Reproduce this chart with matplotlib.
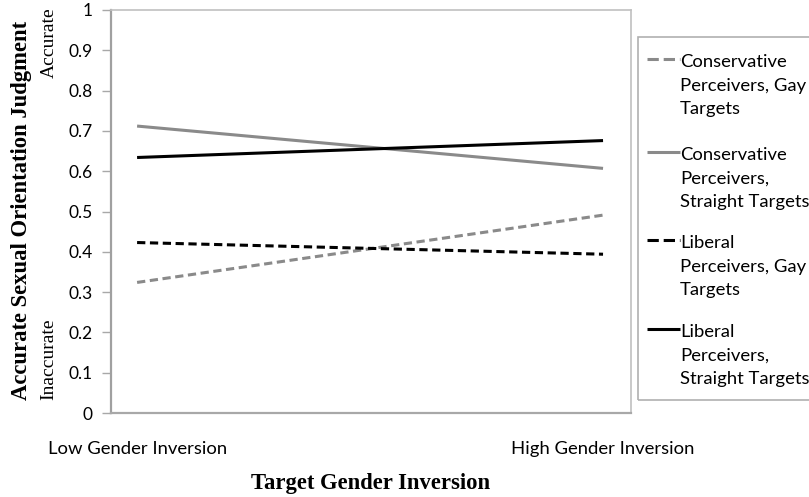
import matplotlib
matplotlib.use("Agg")
import matplotlib.pyplot as plt
from matplotlib.lines import Line2D
from matplotlib.patches import Rectangle

# ---- data ----
categories = ["Low Gender Inversion", "High Gender Inversion"]
series_names = [
    "Conservative\nPerceivers, Gay\nTargets",
    "Conservative\nPerceivers,\nStraight Targets",
    "Liberal\nPerceivers, Gay\nTargets",
    "Liberal\nPerceivers,\nStraight Targets",
]
cons_gay = [0.324, 0.491]
cons_straight = [0.712, 0.607]
lib_gay = [0.423, 0.394]
lib_straight = [0.634, 0.676]
yticks = [0, 0.1, 0.2, 0.3, 0.4, 0.5, 0.6, 0.7, 0.8, 0.9, 1]
ytick_labels = ["0", "0.1", "0.2", "0.3", "0.4", "0.5", "0.6", "0.7", "0.8", "0.9", "1"]

W, H = 809, 497
fig = plt.figure(figsize=(W / 100, H / 100), dpi=100)
ax = fig.add_axes([111 / W, (H - 413) / H, (631 - 111) / W, (413 - 10) / H])

GRAY = "#8a8a8a"
dash = (0, (2.7, 1.5))
styles = [
    dict(color=GRAY, ls=dash),
    dict(color=GRAY, ls="-"),
    dict(color="black", ls=dash),
    dict(color="black", ls="-"),
]
all_series = [cons_gay, cons_straight, lib_gay, lib_straight]
x = list(range(len(categories)))
lines = []
for vals, st in zip(all_series, styles):
    (ln,) = ax.plot(x, vals, lw=2.2, solid_capstyle="butt", dash_capstyle="butt", **st)
    lines.append(ln)

ax.set_ylim(0, 1)
ax.set_xlim(-0.056, 1.06)
ax.set_yticks(yticks)
ax.set_yticklabels(ytick_labels, fontfamily="Lato", fontsize=12.5)
ax.set_xticks(x)
ax.set_xticklabels(categories, fontfamily="Lato", fontsize=13.3)
ax.tick_params(axis="y", direction="out", length=6.5, width=1, color="#a8a8a8", pad=6.5)
ax.tick_params(axis="x", length=0, pad=20)
for s in ["top", "right"]:
    ax.spines[s].set_color("#c0c0c0")
    ax.spines[s].set_linewidth(1.2)
ax.spines["left"].set_color("#a0a0a0")
ax.spines["left"].set_linewidth(1.6)
ax.spines["bottom"].set_color("#a8a8a8")
ax.spines["bottom"].set_linewidth(1.6)

# axis titles
fig.text(371 / W, 1 - 483 / H, "Target Gender Inversion", ha="center", va="center",
         fontfamily="Liberation Serif", fontweight="bold", fontsize=16.3)
fig.text(22 / W, 1 - 210 / H, "Accurate Sexual Orientation Judgment", rotation=90,
         ha="center", va="center", fontfamily="Liberation Serif", fontweight="bold",
         fontsize=16.3)
fig.text(49 / W, 1 - 43 / H, "Accurate", rotation=90, ha="center", va="center",
         fontfamily="Liberation Serif", fontsize=14)
fig.text(49 / W, 1 - 359 / H, "Inaccurate", rotation=90, ha="center", va="center",
         fontfamily="Liberation Serif", fontsize=14)

# legend (manual, handles at first text line)
fig.add_artist(Rectangle((638 / W, 1 - 400 / H), (830 - 638) / W, (400 - 37) / H,
                         transform=fig.transFigure, fill=False, ec="#b0b0b0", lw=1.2))
handle_y = [59, 152, 240, 329]
for ln, name, yh in zip(lines, series_names, handle_y):
    yf = 1 - yh / H
    fig.add_artist(Line2D([647 / W, 680 / W], [yf, yf], transform=fig.transFigure,
                          color=ln.get_color(), ls=ln.get_linestyle(), lw=2.2,
                          dash_capstyle="butt", solid_capstyle="butt"))
    fig.text(680 / W, 1 - (yh + 3 - 8) / H, name, ha="left", va="top",
             fontfamily="Lato", fontsize=13.3, linespacing=1.59)

fig.savefig("out.png", dpi=100)
